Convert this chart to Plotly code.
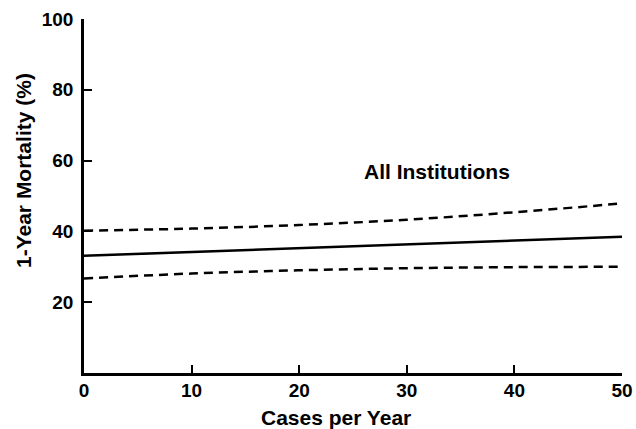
import plotly.graph_objects as go

# Cases per year and modelled 1-year mortality with 95% confidence band
cases = [0, 10, 20, 30, 40, 50]
mortality = [33.1, 34.2, 35.3, 36.4, 37.4, 38.5]
upper_ci = [40.2, 40.8, 41.8, 43.3, 45.4, 47.9]
lower_ci = [26.7, 28.1, 29.0, 29.6, 29.9, 30.0]

y_ticks = [20, 40, 60, 80, 100]
x_ticks = [0, 10, 20, 30, 40, 50]

font_family = "Liberation Sans, Arial, sans-serif"
bold = dict(family=font_family, color="black", weight="bold")

fig = go.Figure()
fig.add_trace(go.Scatter(x=cases, y=upper_ci, mode="lines", line=dict(color="black", width=2.5, dash="9px,6px"), line_shape="spline", showlegend=False))
fig.add_trace(go.Scatter(x=cases, y=lower_ci, mode="lines", line=dict(color="black", width=2.5, dash="9px,6px"), line_shape="spline", showlegend=False))
fig.add_trace(go.Scatter(x=cases, y=mortality, mode="lines", line=dict(color="black", width=2.5), showlegend=False))

fig.add_annotation(x=25.8, y=56.8, text="All Institutions", showarrow=False, xanchor="left", yanchor="middle",
                   font=dict(bold, size=21))
# axis titles
fig.add_annotation(xref="paper", yref="paper", x=0.4675, y=-0.127, text="Cases per Year", showarrow=False,
                   xanchor="center", yanchor="middle", font=dict(bold, size=21))
fig.add_annotation(xref="paper", yref="paper", x=-0.1134, y=0.5734, text="1-Year Mortality (%)", showarrow=False,
                   textangle=-90, xanchor="center", yanchor="middle", font=dict(bold, size=21))

fig.update_layout(
    width=636, height=429,
    margin=dict(l=84, r=14, t=19, b=56),
    paper_bgcolor="white", plot_bgcolor="white",
    font=dict(family=font_family, color="black"),
    xaxis=dict(range=[0, 50], tickvals=x_ticks, ticks="inside", ticklen=8, tickwidth=2, tickcolor="black",
               showline=True, linewidth=2.5, linecolor="black", showgrid=False, zeroline=False,
               tickfont=dict(bold, size=19), ticklabelstandoff=-2, automargin=False),
    yaxis=dict(range=[0, 100], tickvals=y_ticks, ticks="inside", ticklen=8, tickwidth=2, tickcolor="black",
               showline=True, linewidth=2.5, linecolor="black", showgrid=False, zeroline=False,
               tickfont=dict(bold, size=19), ticklabelstandoff=4, automargin=False),
)

fig.write_html("out.html")
